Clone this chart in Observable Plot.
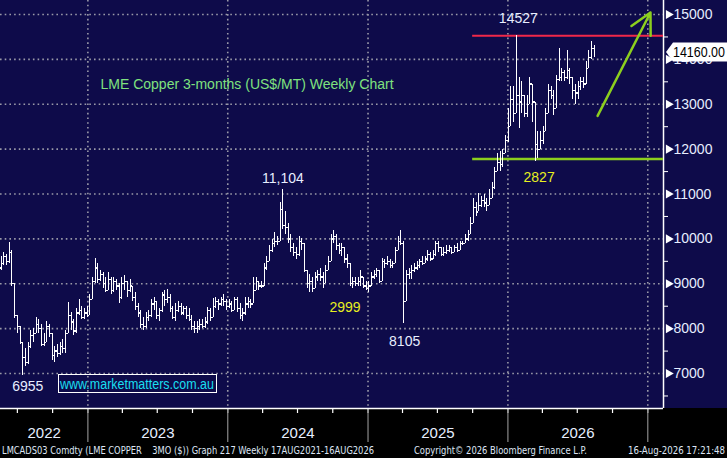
<!DOCTYPE html>
<html><head><meta charset="utf-8">
<script src="https://cdn.jsdelivr.net/npm/d3@7"></script>
<script src="https://cdn.jsdelivr.net/npm/@observablehq/plot@0.6"></script>
<style>
html,body{margin:0;padding:0;background:#0e0b4a;}
#chart svg{display:block;}
</style>
</head><body><div id="chart"></div>
<script>
// ---- Data (weekly LME Copper 3M) ----
const firstWeek = new Date(Date.UTC(2022, 4, 20));
const firstOpen = 9350;
const closes = [9450,9600,9500,9700,9000,8300,8050,7700,7350,7250,7600,7850,7900,8100,8000,7650,7700,8050,7900,7400,
7500,7450,7600,7550,7900,8300,8150,7950,8350,8400,8250,8350,8300,8650,9050,9350,9100,9200,9000,8850,
9100,8850,9050,8950,8700,9000,9050,8850,8950,8700,8500,8350,8100,8050,8250,8300,8550,8600,8300,8400,
8750,8650,8700,8450,8250,8400,8500,8350,8450,8300,8200,8050,8000,8050,8100,8050,8150,8400,8250,8500,
8600,8550,8650,8600,8500,8550,8400,8650,8450,8300,8350,8550,8600,8550,8850,9050,8950,8950,9350,9500,
9750,9900,9950,9950,10650,10300,10250,10000,9800,9700,9650,9950,9900,9300,9000,9050,8900,9150,9200,9150,
9000,9300,9500,10000,10050,9850,9750,9800,9550,9450,9000,9050,9000,9050,9150,8950,8900,8950,9150,9200,
9300,9050,9500,9450,9500,9400,9450,9750,9950,9900,8600,9200,9250,9300,9350,9400,9500,9450,9550,9650,
9550,9650,9900,9800,9650,9700,9750,9800,9700,9800,9750,9900,9900,10000,10100,10350,10700,10600,10750,10850,
10800,10750,10900,11150,11500,11700,11650,11900,12200,12500,13100,12800,13200,13050,13200,12800,13000,13450,13050,12100,
12000,12200,12400,12800,13300,13200,12900,13550,13600,13700,13600,13750,13600,13300,13250,13400,13500,13450,13800,14050,
14250,14160];
const highs = [9600,9700,9650,9920,9750,8500,8300,7950,7700,7550,7700,7950,8000,8250,8200,8100,7900,8150,8100,7900,
7600,7650,7700,7750,7950,8580,8350,8200,8450,8650,8500,8450,8500,8750,9150,9560,9450,9300,9250,9150,
9250,9150,9150,9100,9000,9150,9180,9050,9100,8950,8800,8550,8400,8250,8350,8400,8650,8700,8600,8450,
8800,8850,8880,8750,8500,8550,8600,8550,8500,8500,8450,8300,8150,8150,8200,8200,8250,8480,8450,8670,
8700,8650,8700,8750,8650,8650,8600,8700,8700,8550,8450,8700,8700,8650,9150,9150,9050,9050,9450,9600,
9850,9990,10150,10050,10800,11104,10600,10350,10100,9900,9800,10050,10000,9900,9300,9200,9150,9250,9300,9350,
9250,9400,9600,10100,10190,10100,9900,9900,9800,9650,9450,9150,9150,9150,9300,9150,9050,9050,9250,9300,
9350,9250,9560,9550,9600,9550,9500,9810,10050,10190,9950,9300,9350,9400,9450,9500,9550,9600,9600,9750,
9700,9750,9950,9950,9800,9800,9850,9850,9800,9850,9900,9950,9950,10100,10190,10480,10900,10800,11010,10950,
11000,10900,11100,11250,11600,11900,11950,12000,12300,12900,13400,13400,14527,13600,13500,13100,13200,13600,13250,13000,
12400,12400,12500,12900,13450,13400,13300,13650,14240,13800,13750,14200,13800,13500,13450,13500,13600,13600,13950,14200,
14400,14300];
const lows = [9300,9400,9400,9450,8950,8230,7900,7650,6955,7150,7200,7550,7700,7900,7900,7600,7600,7700,7800,7300,
7250,7350,7400,7450,7450,7900,7950,7850,7900,8300,8200,8200,8250,8300,8650,9000,9000,9050,8900,8800,
8900,8750,8800,8850,8550,8650,8850,8700,8800,8600,8400,8250,8000,7950,8000,8150,8250,8400,8200,8150,
8350,8500,8550,8350,8200,8150,8350,8300,8300,8200,8150,7950,7900,7900,7950,8000,8000,8100,8150,8400,
8450,8400,8500,8500,8400,8450,8350,8400,8350,8200,8150,8300,8450,8450,8550,8850,8850,8900,8950,9300,
9500,9700,9800,9850,9950,10200,10100,9900,9700,9600,9550,9600,9750,9250,8900,8800,8800,8950,9050,9050,
8900,9000,9300,9500,9900,9750,9650,9600,9450,9350,8950,8900,8950,8950,8950,8900,8850,8800,9000,9100,
9150,9000,9050,9350,9400,9350,9350,9450,9800,9850,8105,8700,9100,9100,9250,9300,9350,9400,9450,9500,
9500,9550,9600,9700,9600,9600,9650,9700,9650,9700,9700,9750,9850,9900,9950,10200,10400,10500,10650,10700,
10700,10600,10750,10900,11100,11500,11500,11600,11900,12150,12500,12600,12900,12450,12800,12700,12700,13000,12600,11727,
11800,12000,12100,12400,12800,13100,12750,12950,13500,13500,13500,13550,13450,13100,13000,13100,13300,13350,13600,13900,
14000,14050];

const yTicks = [7000, 8000, 9000, 10000, 11000, 12000, 13000, 14000, 15000];
const yMinor = [6500, 7500, 8500, 9500, 10500, 11500, 12500, 13500, 14500];
const yearLabels = ["2022", "2023", "2024", "2025", "2026"];
const lastPrice = 14160;
const resistance = 14527;
const support = 11780;

const titleText = "LME Copper 3-months (US$/MT) Weekly Chart";
const siteText = "www.marketmatters.com.au";
const footerLeft = "LMCADS03 Comdty (LME COPPER    3MO ($)) Graph 217 Weekly 17AUG2021-16AUG2026";
const footerMid = "Copyright\u00A9 2026 Bloomberg Finance L.P.";
const footerRight = "16-Aug-2026 17:21:48";

// annotation labels tied to bars
const notes = [
  {text: "14527", bar: 192, field: "high", dx: 2, dy: -17, color: "#e8eeff"},
  {text: "11,104", bar: 105, field: "high", dx: 0, dy: -11, color: "#e8eeff"},
  {text: "6955", bar: 8, field: "low", dx: 5, dy: 11, color: "#e8eeff"},
  {text: "8105", bar: 150, field: "low", dx: 1, dy: 18, color: "#e8eeff"},
  {text: "2999", bar: 130, field: "low", dx: -5, dy: 21, color: "#e8f020"},
  {text: "2827", bar: 199, field: "low", dx: 4, dy: 16, color: "#e8f020"}
];

// ---- Build table ----
const bars = closes.map((c, i) => {
  const open = i ? closes[i - 1] : firstOpen;
  return {
    date: d3.utcDay.offset(firstWeek, 7 * i),
    open, close: c,
    high: Math.max(highs[i], open, c),
    low: Math.min(lows[i], open, c)
  };
});

const xDomain = [new Date(Date.UTC(2022, 4, 18)), new Date(Date.UTC(2027, 1, 11))];
const yDomain = [6221, 15312];
const yearStarts = d3.utcYear.range(new Date(Date.UTC(2023,0,1)), new Date(Date.UTC(2027,0,2)));
const quarterTicks = d3.utcMonth.every(3).range(xDomain[0], xDomain[1]);
const yearMids = yearLabels.map((y) => {
  const s = new Date(Date.UTC(+y, 0, 1)), e = new Date(Date.UTC(+y + 1, 0, 1));
  const a = s < xDomain[0] ? xDomain[0] : s;
  return new Date((+a + +e) / 2);
});
const lineStart = new Date(Date.UTC(2025, 9, 1));
const arrowSpec = [{x1: new Date(Date.UTC(2026, 7, 23)), y1: 12740, x2: new Date(Date.UTC(2027, 0, 8)), y2: 15045}];

const W = 727, H = 458, mR = 64, mB = 50;
const txt = "#e6eeff";
const grid = {stroke: "#9a9aa8", strokeWidth: 1.6, strokeDasharray: "1.6,3.1"};

// custom pixel-layer marks
const bottomBand = () => {
  const g = d3.create("svg:g");
  g.append("rect").attr("x", 0).attr("y", H - mB).attr("width", W).attr("height", mB).attr("fill", "#000");
  return g.node();
};
const priceTag = (index, scales) => {
  const yy = Math.round(scales.y(lastPrice));
  const x0 = W - mR + 3;
  const g = d3.create("svg:g").attr("text-anchor", "start");
  g.append("path")
    .attr("d", `M${x0},${yy} L${x0 + 7},${yy - 9.5} L${W},${yy - 9.5} L${W},${yy + 9.5} L${x0 + 7},${yy + 9.5} Z`)
    .attr("fill", "#fff");
  g.append("text").attr("x", x0 + 7).attr("y", yy).attr("dy", "0.36em").attr("text-anchor", "start")
    .attr("fill", "#000").attr("font-size", 14).attr("textLength", 52).attr("lengthAdjust", "spacingAndGlyphs").text(lastPrice.toFixed(2));
  return g.node();
};
const siteBox = () => {
  const g = d3.create("svg:g").attr("text-anchor", "start");
  g.append("rect").attr("x", 58.5).attr("y", 374.5).attr("width", 158).attr("height", 18)
    .attr("fill", "none").attr("stroke", "#fff").attr("stroke-width", 1);
  g.append("text").attr("x", 60).attr("y", 383.5).attr("dy", "0.36em").attr("text-anchor", "start")
    .attr("fill", "#19dff0").attr("font-size", 14).attr("textLength", 154).attr("lengthAdjust", "spacingAndGlyphs").text(siteText);
  return g.node();
};
const footer = () => {
  const g = d3.create("svg:g").attr("font-family", "DejaVu Sans, sans-serif").attr("font-size", 10)
    .attr("fill", "#dfe6f5").attr("text-anchor", "start");
  const y = 454;
  g.append("text").attr("x", 2).attr("y", y).attr("text-anchor", "start").attr("textLength", 372).attr("lengthAdjust", "spacingAndGlyphs").style("white-space","pre").text(footerLeft);
  g.append("text").attr("x", 414).attr("y", y).attr("text-anchor", "start").attr("textLength", 173).attr("lengthAdjust", "spacingAndGlyphs").text(footerMid);
  g.append("text").attr("x", 628).attr("y", y).attr("text-anchor", "start").attr("textLength", 97).attr("lengthAdjust", "spacingAndGlyphs").text(footerRight);
  return g.node();
};

const noteMarks = notes.map(n => Plot.text([n], {
  x: d => bars[d.bar].date, y: d => bars[d.bar][d.field], text: "text",
  dx: n.dx, dy: n.dy, fill: n.color, fontSize: 14
}));

const chart = Plot.plot({
  width: W, height: H,
  marginLeft: 0, marginRight: mR, marginTop: 0, marginBottom: mB,
  style: {background: "#0e0b4a", fontFamily: "Liberation Sans, Arial, sans-serif", fontSize: "13px", overflow: "visible"},
  x: {type: "utc", domain: xDomain, axis: null},
  y: {domain: yDomain, axis: null},
  marks: [
    bottomBand,
    // grid
    Plot.ruleY(yTicks, {y: d => d, ...grid}),
    Plot.ruleX(yearStarts, {x: d => d, ...grid}),
    // x axis band
    Plot.axisX({ticks: quarterTicks, tickSize: 5, tickFormat: () => "", stroke: "#fff", strokeWidth: 1.2}),
    Plot.axisX({ticks: yearStarts, tickSize: 34, tickFormat: () => "", stroke: "#8a8a8a", strokeWidth: 1.2}),
    Plot.axisX({ticks: yearMids, tickSize: 0, tickPadding: 19, tickFormat: (d, i) => yearLabels[i], fill: txt, fontSize: 15}),
    Plot.ruleY([yDomain[0]], {stroke: "#fff", strokeWidth: 1.5}),
    // right axis
    Plot.ruleX([xDomain[1]], {stroke: "#fff", strokeWidth: 1.5}),
    Plot.axisY({anchor: "right", ticks: yMinor, tickSize: 4, tickFormat: () => "", stroke: "#fff"}),
    Plot.axisY({anchor: "right", ticks: yTicks, tickSize: 0, tickPadding: 10, fill: txt, fontSize: 14, tickFormat: d => String(d)}),
    Plot.dot(yTicks, {x: () => xDomain[1], y: d => d, symbol: "triangle", rotate: 90, r: 3.4, fill: "#fff", dx: 5}),
    // support / resistance
    Plot.ruleY([resistance], {x1: lineStart, x2: xDomain[1], stroke: "#f0284a", strokeWidth: 2}),
    Plot.ruleY([support], {x1: lineStart, x2: xDomain[1], stroke: "#8ccf1e", strokeWidth: 2.5}),
    // OHLC bars
    Plot.ruleX(bars, {x: "date", y1: "low", y2: "high", stroke: "#fff", strokeWidth: 1, shapeRendering: "crispEdges"}),
    Plot.ruleY(bars, {y: "open", x1: d => d3.utcHour.offset(d.date, -100), x2: "date", stroke: "#fff", strokeWidth: 1.2, shapeRendering: "crispEdges"}),
    Plot.ruleY(bars, {y: "close", x1: "date", x2: d => d3.utcHour.offset(d.date, 100), stroke: "#fff", strokeWidth: 1.2, shapeRendering: "crispEdges"}),
    // arrow
    Plot.arrow(arrowSpec, {x1: "x1", y1: "y1", x2: "x2", y2: "y2", stroke: "#8ccf1e", strokeWidth: 2.5, headLength: 14, headAngle: 55}),
    // annotations
    ...noteMarks,
    Plot.text([titleText], {frameAnchor: "top-left", dx: 100, dy: 79, text: d => d, fill: "#7fe27f", fontSize: 14, textAnchor: "start"}),
    siteBox,
    priceTag,
    footer
  ]
});
document.getElementById("chart").appendChild(chart);
</script>
</body></html>
